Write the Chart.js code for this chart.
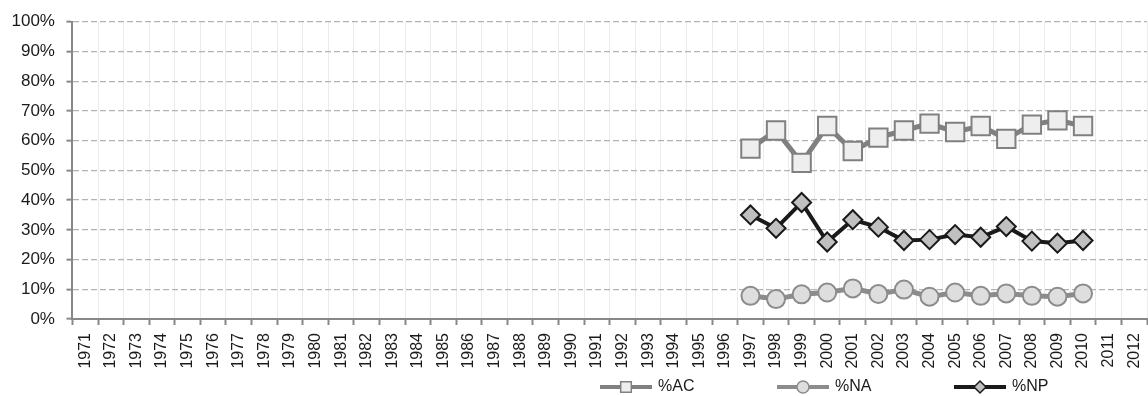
<!DOCTYPE html>
<html lang="en">
<head>
    <meta charset="UTF-8">
    <title>%AC %NA %NP</title>
    <script src="https://cdn.jsdelivr.net/npm/chart.js"></script>
    <style>
        html, body { margin: 0; padding: 0; background: #ffffff; }
        #wrap { width: 1148px; height: 396px; }
    </style>
</head>
<body>
    <div id="wrap"><canvas id="chart"></canvas></div>
    <script>
        const years = ['1971', '1972', '1973', '1974', '1975', '1976', '1977', '1978', '1979', '1980',
            '1981', '1982', '1983', '1984', '1985', '1986', '1987', '1988', '1989', '1990',
            '1991', '1992', '1993', '1994', '1995', '1996', '1997', '1998', '1999', '2000',
            '2001', '2002', '2003', '2004', '2005', '2006', '2007', '2008', '2009', '2010',
            '2011', '2012'];
        const dataYears = ['1997', '1998', '1999', '2000', '2001', '2002', '2003', '2004',
            '2005', '2006', '2007', '2008', '2009', '2010'];
        const pctAC = [57.3, 63.4, 52.5, 64.9, 56.5, 61.0, 63.4, 65.7, 62.9, 64.9, 60.6, 65.4, 66.8, 64.9];
        const pctNA = [7.8, 6.7, 8.3, 8.9, 10.3, 8.4, 9.9, 7.5, 8.9, 7.8, 8.6, 7.8, 7.5, 8.6];
        const pctNP = [35.0, 30.5, 39.2, 25.9, 33.4, 30.9, 26.4, 26.7, 28.4, 27.5, 31.1, 26.2, 25.5, 26.4];
        const yTicks = [0, 10, 20, 30, 40, 50, 60, 70, 80, 90, 100];

        const FONT = '"Liberation Sans", Arial, sans-serif';

        function points(values) {
            return values.map((v, i) => ({ x: dataYears[i], y: v }));
        }

        // legend drawn as line + marker like the original
        const legendPlugin = {
            id: 'lineLegend',
            afterDraw(chart) {
                const ctx = chart.ctx;
                const y = chart.height - 9;
                const startX = 600;
                const step = 177;
                chart.data.datasets.forEach((ds, i) => {
                    const x0 = startX + i * step;
                    ctx.save();
                    ctx.strokeStyle = ds.borderColor;
                    ctx.lineWidth = 4;
                    ctx.beginPath();
                    ctx.moveTo(x0, y);
                    ctx.lineTo(x0 + 52, y);
                    ctx.stroke();
                    ctx.fillStyle = ds.pointBackgroundColor;
                    ctx.strokeStyle = ds.pointBorderColor;
                    ctx.lineWidth = 1.5;
                    Chart.helpers.drawPoint(ctx, {
                        pointStyle: ds.pointStyle,
                        radius: ds.legendRadius,
                        rotation: 0,
                        borderWidth: 1.5
                    }, x0 + 26, y);
                    ctx.fillStyle = '#1a1a1a';
                    ctx.font = '16px ' + FONT;
                    ctx.textBaseline = 'middle';
                    ctx.textAlign = 'left';
                    ctx.fillText(ds.label, x0 + 58, y);
                    ctx.restore();
                });
            }
        };

        new Chart(document.getElementById('chart'), {
            type: 'line',
            data: {
                labels: years,
                datasets: [
                    {
                        label: '%AC',
                        data: points(pctAC),
                        borderColor: '#808080',
                        borderWidth: 5,
                        pointStyle: 'rect',
                        pointRadius: 13,
                        pointBackgroundColor: '#eeeeee',
                        pointBorderColor: '#808080',
                        pointBorderWidth: 2,
                        legendRadius: 7.5
                    },
                    {
                        label: '%NA',
                        data: points(pctNA),
                        borderColor: '#8c8c8c',
                        borderWidth: 5,
                        pointStyle: 'circle',
                        pointRadius: 9,
                        pointBackgroundColor: '#dedede',
                        pointBorderColor: '#8c8c8c',
                        pointBorderWidth: 2,
                        legendRadius: 6
                    },
                    {
                        label: '%NP',
                        data: points(pctNP),
                        borderColor: '#1a1a1a',
                        borderWidth: 4,
                        pointStyle: 'rectRot',
                        pointRadius: 9.5,
                        pointBackgroundColor: '#c0c0c0',
                        pointBorderColor: '#1a1a1a',
                        pointBorderWidth: 2,
                        legendRadius: 6
                    }
                ]
            },
            options: {
                responsive: true,
                maintainAspectRatio: false,
                animation: false,
                layout: { autoPadding: false, padding: { top: 10, left: 0, right: 1, bottom: 19.4 } },
                plugins: {
                    legend: { display: false },
                    tooltip: { enabled: false }
                },
                scales: {
                    x: {
                        type: 'category',
                        offset: true,
                        afterFit(scale) {
                            scale.paddingLeft = 0;
                            scale.paddingRight = 0;
                        },
                        grid: {
                            offset: true,
                            color: '#ebebeb',
                            lineWidth: 1,
                            tickColor: '#888888',
                            tickLength: 6,
                            tickWidth: 2
                        },
                        border: { color: '#888888', width: 2 },
                        ticks: {
                            autoSkip: false,
                            minRotation: 90,
                            maxRotation: 90,
                            padding: 8,
                            color: '#1a1a1a',
                            font: { family: FONT, size: 16 }
                        }
                    },
                    y: {
                        min: 0,
                        max: 100,
                        afterBuildTicks(scale) {
                            scale.ticks = yTicks.map(v => ({ value: v }));
                        },
                        grid: {
                            color: '#b3b3b3',
                            lineWidth: 1.3,
                            tickColor: '#888888',
                            tickBorderDash: [],
                            tickLength: 6,
                            tickWidth: 2
                        },
                        border: { color: '#888888', width: 2, dash: [6, 3] },
                        ticks: {
                            padding: 11.5,
                            color: '#1a1a1a',
                            font: { family: FONT, size: 17 },
                            callback: v => v + '%'
                        }
                    }
                }
            },
            plugins: [legendPlugin]
        });
    </script>
</body>
</html>
